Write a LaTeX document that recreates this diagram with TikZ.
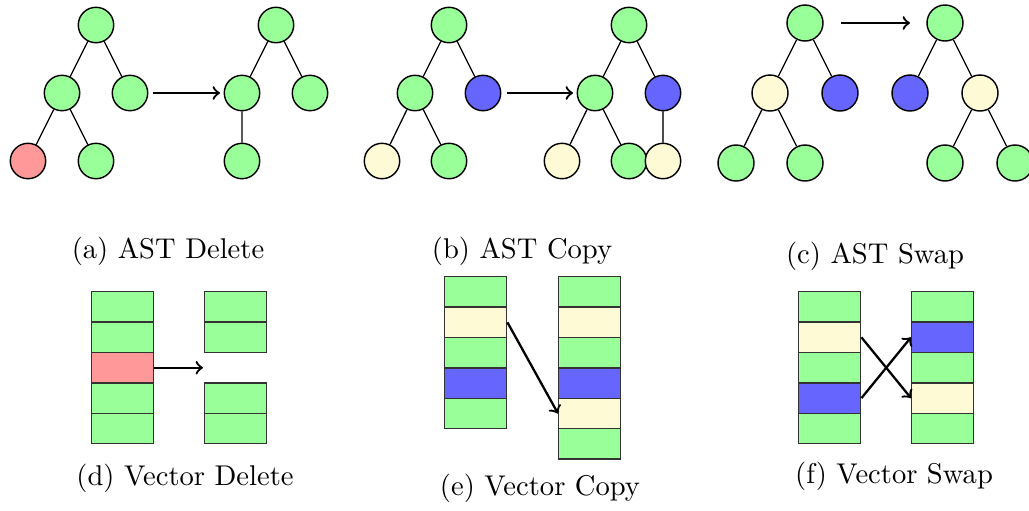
\documentclass[tikz,border=0pt]{standalone}
\definecolor{ngreen}{RGB}{153,255,153}
\definecolor{nred}{RGB}{255,153,153}
\definecolor{nyellow}{RGB}{255,250,214}
\definecolor{nblue}{RGB}{102,102,255}
\begin{document}
\begin{tikzpicture}[x=0.35pt,y=-0.35pt,
  tn/.style={circle,draw,line width=0.5pt,inner sep=0pt,minimum size=12.4pt},
  tnc/.style={tn,minimum size=12.6pt},
  G/.style={fill=ngreen},
  R/.style={fill=nred},
  Y/.style={fill=nyellow},
  B/.style={fill=nblue},
  cell/.style={rectangle,draw=black!80,line width=0.5pt,inner sep=0pt,
    minimum width=21.7pt,minimum height=10.64pt,anchor=north west},
  tedge/.style={line width=0.45pt},
  arr/.style={->,line width=0.8pt},
  captxt/.style={anchor=base,inner sep=0pt}]
\useasboundingbox (0,0) rectangle (1029,510);

% ---------- (a) AST Delete ----------
\node[tn,G] (a1) at (96,25) {};
\node[tn,G] (a2) at (62,93) {};
\node[tn,G] (a3) at (130,93) {};
\node[tn,R] (a4) at (28,161) {};
\node[tn,G] (a5) at (96,161) {};
\draw[tedge] (a1) -- (a2) (a1) -- (a3) (a2) -- (a4) (a2) -- (a5);
\node[tn,G] (a6) at (276,25) {};
\node[tn,G] (a7) at (242,93) {};
\node[tn,G] (a8) at (310,93) {};
\node[tn,G] (a9) at (242,161) {};
\draw[tedge] (a6) -- (a7) (a6) -- (a8) (a7) -- (a9);
\coordinate (aend) at (220,93);
\draw[arr,shorten <=1.5pt] (a3) -- (aend);
\node[captxt] (capa) at (168,258) {(a) AST Delete};

% ---------- (b) AST Copy ----------
\node[tn,G] (b1) at (449,25) {};
\node[tn,G] (b2) at (415,93) {};
\node[tn,B] (b3) at (483,93) {};
\node[tn,Y] (b4) at (382,161) {};
\node[tn,G] (b5) at (449,161) {};
\draw[tedge] (b1) -- (b2) (b1) -- (b3) (b2) -- (b4) (b2) -- (b5);
\node[tn,G] (b6) at (629,25) {};
\node[tn,G] (b7) at (595,93) {};
\node[tn,B] (b8) at (663,93) {};
\node[tn,Y] (b9) at (562,161) {};
\node[tn,G] (b10) at (629,161) {};
\node[tn,Y] (b11) at (663,161) {};
\draw[tedge] (b6) -- (b7) (b6) -- (b8) (b7) -- (b9) (b7) -- (b10);
\draw[tedge,black!70,line width=0.6pt] (b8) -- (b11);
\coordinate (bend) at (573,93);
\draw[arr,shorten <=1.8pt] (b3) -- (bend);
\node[captxt] (capb) at (522,258) {(b) AST Copy};

% ---------- (c) AST Swap ----------
\node[tnc,G] (c1) at (805,23) {};
\node[tnc,Y] (c2) at (770,93) {};
\node[tnc,B] (c3) at (840,93) {};
\node[tnc,G] (c4) at (736,163) {};
\node[tnc,G] (c5) at (805,163) {};
\draw[tedge] (c1) -- (c2) (c1) -- (c3) (c2) -- (c4) (c2) -- (c5);
\node[tnc,G] (c6) at (945,23) {};
\node[tnc,B] (c7) at (910,93) {};
\node[tnc,Y] (c8) at (980,93) {};
\node[tnc,G] (c9) at (945,163) {};
\node[tnc,G] (c10) at (1015,163) {};
\draw[tedge] (c6) -- (c7) (c6) -- (c8) (c8) -- (c9) (c8) -- (c10);
\coordinate (cend) at (910,23);
\draw[arr,shorten <=6.2pt] (c1) -- (cend);
\node[captxt] (capc) at (875,263) {(c) AST Swap};

% ---------- (d) Vector Delete ----------
\node[cell,G] (d1) at (91,291) {};
\node[cell,G] (d2) at (91,321.4) {};
\node[cell,R] (d3) at (91,351.8) {};
\node[cell,G] (d4) at (91,382.2) {};
\node[cell,G] (d5) at (91,412.6) {};
\node[cell,G] (d6) at (204,291) {};
\node[cell,G] (d7) at (204,321.4) {};
\node[cell,G] (d8) at (204,382.2) {};
\node[cell,G] (d9) at (204,412.6) {};
\coordinate (dend) at (203,367);
\draw[arr] (d3.east) -- (d3.east -| dend);
\node[captxt] (capd) at (185,485) {(d) Vector Delete};

% ---------- (e) Vector Copy ----------
\node[cell,G] (e1) at (444,276) {};
\node[cell,Y] (e2) at (444,306.4) {};
\node[cell,G] (e3) at (444,336.8) {};
\node[cell,B] (e4) at (444,367.2) {};
\node[cell,G] (e5) at (444,397.6) {};
\node[cell,G] (e6) at (558,276) {};
\node[cell,Y] (e7) at (558,306.4) {};
\node[cell,G] (e8) at (558,336.8) {};
\node[cell,B] (e9) at (558,367.2) {};
\node[cell,Y] (e10) at (558,397.6) {};
\node[cell,G] (e11) at (558,428) {};
\draw[arr] (e2.east) -- (e10.west);
\node[captxt] (cape) at (540,495) {(e) Vector Copy};

% ---------- (f) Vector Swap ----------
\node[cell,G] (f1) at (798,291) {};
\node[cell,Y] (f2) at (798,321.4) {};
\node[cell,G] (f3) at (798,351.8) {};
\node[cell,B] (f4) at (798,382.2) {};
\node[cell,G] (f5) at (798,412.6) {};
\node[cell,G] (f6) at (911,291) {};
\node[cell,B] (f7) at (911,321.4) {};
\node[cell,G] (f8) at (911,351.8) {};
\node[cell,Y] (f9) at (911,382.2) {};
\node[cell,G] (f10) at (911,412.6) {};
\draw[arr] (f2.east) -- (f9.west);
\draw[arr] (f4.east) -- (f7.west);
\node[captxt] (capf) at (894,483) {(f) Vector Swap};
\end{tikzpicture}
\end{document}
